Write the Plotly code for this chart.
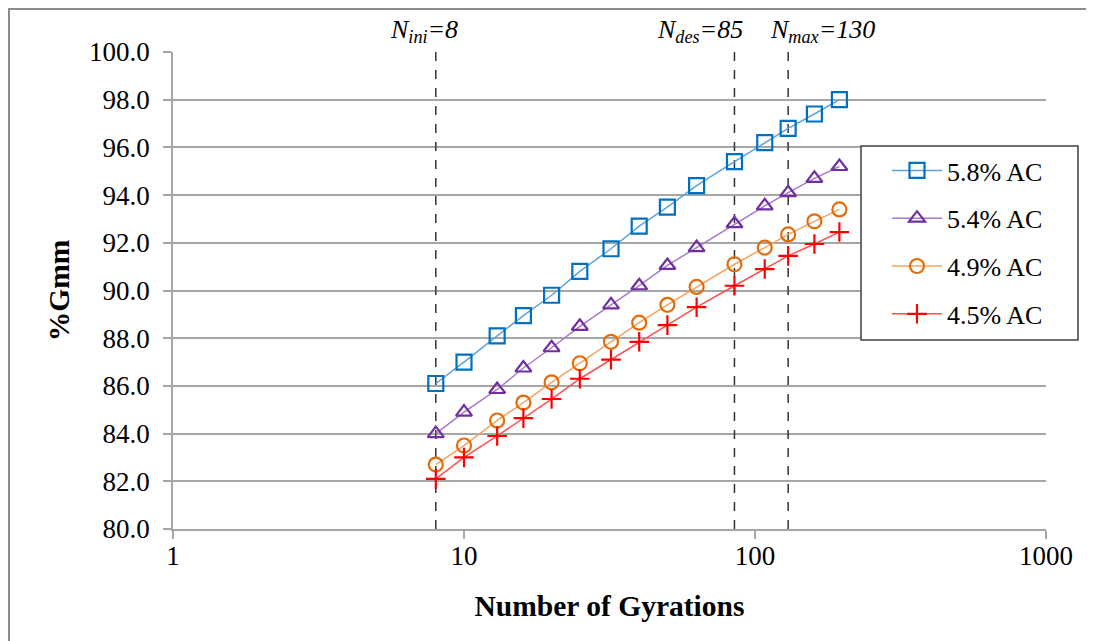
import math
import plotly.graph_objects as go

gyrations = [8, 10, 13, 16, 20, 25, 32, 40, 50, 63, 85, 108, 130, 160, 195]
ac_58 = [86.1, 87.0, 88.1, 88.95, 89.8, 90.8, 91.75, 92.7, 93.5, 94.4, 95.4, 96.2, 96.8, 97.4, 98.0]
ac_54 = [84.0, 84.9, 85.85, 86.75, 87.6, 88.5, 89.4, 90.2, 91.05, 91.8, 92.8, 93.55, 94.1, 94.7, 95.2]
ac_49 = [82.7, 83.5, 84.55, 85.3, 86.15, 86.95, 87.85, 88.65, 89.4, 90.15, 91.1, 91.8, 92.35, 92.9, 93.4]
ac_45 = [82.1, 83.0, 83.9, 84.65, 85.45, 86.3, 87.1, 87.85, 88.55, 89.3, 90.2, 90.9, 91.45, 91.95, 92.45]

series_names = ["5.8% AC", "5.4% AC", "4.9% AC", "4.5% AC"]
limits = [8, 85, 130]
limit_labels = ["<i>N<sub>ini</sub>=8</i>", "<i>N<sub>des</sub>=85</i>", "<i>N<sub>max</sub>=130</i>"]
y_ticks = [80, 82, 84, 86, 88, 90, 92, 94, 96, 98, 100]
x_ticks = [1, 10, 100, 1000]

FONT = "Liberation Serif"

styles = [
    dict(line="#5BA3DE", marker="#0070C0", symbol="square-open", size=15),
    dict(line="#A57BCB", marker="#7030A0", symbol="triangle-up-open", size=14),
    dict(line="#F4A460", marker="#E46C0A", symbol="circle-open", size=14),
    dict(line="#FF5050", marker="#FF0000", symbol="cross-thin-open", size=14),
]

fig = go.Figure()

# dashed reference lines
for v in limits:
    fig.add_trace(go.Scatter(
        x=[v, v], y=[y_ticks[0], y_ticks[-1]], mode="lines",
        line=dict(color="#333333", width=1.5, dash="dash"),
        showlegend=False, hoverinfo="skip"))

for i, (name, ys) in enumerate(zip(series_names, [ac_58, ac_54, ac_49, ac_45])):
    st = styles[i]
    fig.add_trace(go.Scatter(
        x=gyrations, y=ys, mode="lines+markers", name=name,
        legendgroup=name,
        line=dict(color=st["line"], width=1.5),
        marker=dict(symbol=st["symbol"], size=st["size"],
                    color=st["marker"], line=dict(color=st["marker"], width=2.2)),
    ))

# annotations for limits
shifts = [-12, -34, 34]
for v, lab, sh in zip(limits, limit_labels, shifts):
    fig.add_annotation(x=math.log10(v), y=1, xref="x", yref="paper",
                       text=lab, showarrow=False, xanchor="center", yanchor="bottom",
                       xshift=sh, yshift=3,
                       font=dict(family=FONT, size=26, color="black"))

# page has an 8px body margin: figure origin sits at page (8, 8)
OFF = 8
L, R, T, B = 173 - OFF, 48, 52 - OFF, 112
W, H = 1094 - OFF, 641 - OFF
pw, ph = W - L - R, H - T - B


def px(xp):
    return (xp - OFF - L) / pw


def py(yp):
    return (H - B - (yp - OFF)) / ph


# outer frame (top and left)
fig.add_shape(type="line", xref="paper", yref="paper", x0=px(8), x1=px(1094), y0=py(9), y1=py(9),
              line=dict(color="#8c8c8c", width=2))
fig.add_shape(type="line", xref="paper", yref="paper", x0=px(9), x1=px(9), y0=py(9), y1=py(641),
              line=dict(color="#8c8c8c", width=2))
# legend box
fig.add_shape(type="rect", xref="paper", yref="paper", x0=px(861), x1=px(1078), y0=py(146), y1=py(340),
              line=dict(color="#404040", width=1.5), fillcolor="white", layer="above")

fig.update_layout(
    width=W, height=H,
    margin=dict(l=L, r=R, t=T, b=B),
    paper_bgcolor="white", plot_bgcolor="white",
    font=dict(family=FONT, size=27, color="black"),
    showlegend=True,
    legend=dict(x=px(887), y=py(147), xanchor="left", yanchor="top",
                bgcolor="rgba(0,0,0,0)", borderwidth=0,
                font=dict(family=FONT, size=26, color="black"),
                tracegroupgap=11, itemwidth=50),
    xaxis=dict(type="log", range=[0, 3], tickvals=x_ticks, ticktext=[str(t) for t in x_ticks],
               showgrid=False, zeroline=False,
               showline=True, linecolor="#a6a6a6", linewidth=1.5,
               ticks="outside", ticklen=8, tickcolor="#a6a6a6", tickwidth=1.5,
               ticklabelstandoff=-6,
               tickfont=dict(family=FONT, size=27, color="black"),
               title=dict(text="<b>Number of Gyrations</b>", font=dict(family=FONT, size=29.5, color="black"),
                          standoff=25)),
    yaxis=dict(range=[80, 100], tickvals=y_ticks, ticktext=[f"{t:.1f}" for t in y_ticks],
               showgrid=True, gridcolor="#a6a6a6", gridwidth=1.5, zeroline=False,
               showline=True, linecolor="#a6a6a6", linewidth=1.5,
               ticks="outside", ticklen=8, tickcolor="#a6a6a6", tickwidth=1.5,
               ticklabelstandoff=8,
               tickfont=dict(family=FONT, size=27, color="black"),
               title=dict(text="<b>%Gmm</b>", font=dict(family=FONT, size=29.5, color="black"),
                          standoff=11)),
)

fig.write_html("out.html")
